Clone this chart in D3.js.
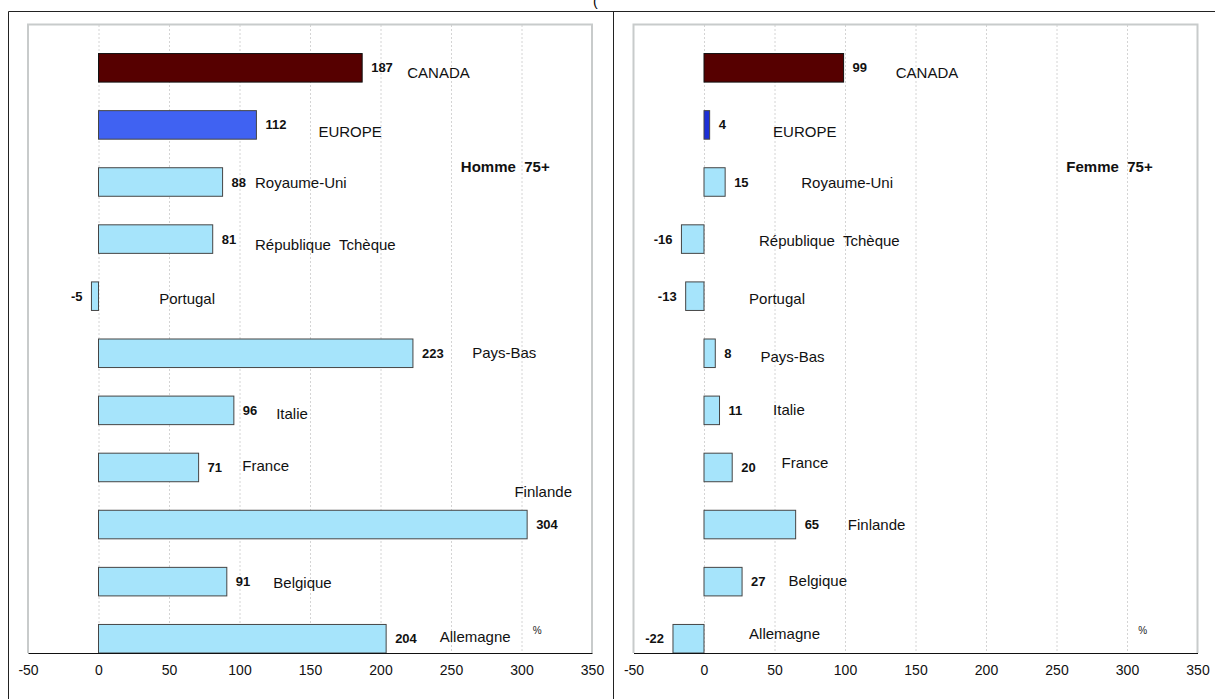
<!DOCTYPE html>
<html>
<head>
<meta charset="utf-8">
<script src="https://cdn.jsdelivr.net/npm/d3@7"></script>
<style>
  body { margin: 0; background: #fff; }
  text { font-family: "Liberation Sans", Arial, sans-serif; }
</style>
</head>
<body>
<div id="chart"></div>
<script>
// data
var countries = ["CANADA", "EUROPE", "Royaume-Uni", "République  Tchèque", "Portugal",
                 "Pays-Bas", "Italie", "France", "Finlande", "Belgique", "Allemagne"];
var homme = [187, 112, 88, 81, -5, 223, 96, 71, 304, 91, 204];
var femme = [99, 4, 15, -16, -13, 8, 11, 20, 65, 27, -22];
var ticks = [-50, 0, 50, 100, 150, 200, 250, 300, 350];
var panelTitles = ["Homme  75+", "Femme  75+"];

// where the country names sit (value units, pixel shift from bar centre)
var nameAtH = [219, 156, 111, 111, 43, 265, 126, 102, 295, 124, 242];
var nameDyH = [5, 7, 1, 6, 3, -1, 3, -2, -33, 1, -2];
var nameAtF = [136, 49, 69, 39, 32, 40, 49, 55, 102, 60, 32];
var nameDyF = [5, 7, 1, 2, 3, 3, -1, -5, 0, -1, -5];

var W = 1215, H = 699;

var svg = d3.select("#chart").append("svg")
    .attr("width", W)
    .attr("height", H);

// outer frames
svg.append("path")
    .attr("d", "M8.5," + H + "V11.5H" + W)
    .attr("fill", "none").attr("stroke", "#222").attr("stroke-width", 1);
svg.append("line")
    .attr("x1", 613.5).attr("x2", 613.5).attr("y1", 11).attr("y2", H)
    .attr("stroke", "#222").attr("stroke-width", 1);

// cut off title bracket at the top
svg.append("text").attr("x", 593).attr("y", 6)
    .style("font-size", "14px").text("(");

var y = d3.scaleBand()
    .domain(countries)
    .range([25, 653])
    .paddingInner(0);
var bw = y.bandwidth();

function barColor(i, panel) {
    if (i == 0) return "#560000";
    if (i == 1) return panel == 0 ? "#4062f2" : "#1c2fd6";
    return "#a6e4fb";
}

function drawPanel(panel, x0, values, nameAt, nameDy, title) {
    var g = svg.append("g");
    var x = d3.scaleLinear().domain([-50, 350]).range([x0, x0 + 564]);

    // grid
    g.selectAll(".grid")
        .data(ticks.slice(1, -1))
        .enter().append("line")
        .attr("x1", d => x(d) + 0.5).attr("x2", d => x(d) + 0.5)
        .attr("y1", 25).attr("y2", 653)
        .attr("stroke", "#d4d4d4")
        .attr("stroke-dasharray", "2,2");

    // plot area border (grey)
    g.append("path")
        .attr("d", "M" + x(-50) + ",653V24.5H" + x(350) + "V653")
        .attr("fill", "none")
        .attr("stroke", "#c8cbcb")
        .attr("stroke-width", 2);

    // bars
    g.selectAll(".bar")
        .data(values)
        .enter().append("rect")
        .attr("class", "bar")
        .attr("x", d => x(Math.min(0, d)))
        .attr("y", (d, i) => y(countries[i]) + bw * 0.5)
        .attr("width", d => Math.abs(x(d) - x(0)))
        .attr("height", bw * 0.5)
        .attr("fill", (d, i) => barColor(i, panel))
        .attr("stroke", (d, i) => i == 0 ? "#111" : "#454545")
        .attr("stroke-width", 1);

    // value labels
    g.selectAll(".val")
        .data(values)
        .enter().append("text")
        .attr("x", d => d >= 0 ? x(d) + 9 : x(d) - 9)
        .attr("y", (d, i) => y(countries[i]) + bw * 0.75)
        .attr("dy", "0.35em")
        .attr("text-anchor", d => d >= 0 ? "start" : "end")
        .style("font-size", "13px")
        .style("font-weight", "bold")
        .attr("fill", "#111")
        .text(d => d);

    // country names
    g.selectAll(".name")
        .data(countries)
        .enter().append("text")
        .attr("x", (d, i) => x(nameAt[i]))
        .attr("y", (d, i) => y(d) + bw * 0.75 + nameDy[i])
        .attr("dy", "0.35em")
        .style("font-size", "15px")
        .style("white-space", "pre")
        .attr("fill", "#111")
        .text(d => d);

    g.append("text")
        .attr("x", x(257)).attr("y", 167).attr("dy", "0.35em")
        .style("font-size", "15px").style("font-weight", "bold")
        .style("white-space", "pre")
        .attr("fill", "#111")
        .text(title);

    g.append("text")
        .attr("x", x(308)).attr("y", 630).attr("dy", "0.35em")
        .style("font-size", "10px")
        .attr("fill", "#222")
        .text("%");

    // axis
    var axis = g.append("g")
        .attr("transform", "translate(0,653)")
        .call(d3.axisBottom(x).tickValues(ticks).tickSize(0).tickPadding(12)
            .tickFormat(d => String(d)));
    axis.select(".domain").attr("stroke", "#111");
    axis.selectAll("text")
        .style("font-size", "14px")
        .style("font-family", "'Liberation Sans', Arial, sans-serif")
        .attr("fill", "#111");
}

drawPanel(0, 28, homme, nameAtH, nameDyH, panelTitles[0]);
drawPanel(1, 633.5, femme, nameAtF, nameDyF, panelTitles[1]);
</script>
</body>
</html>
